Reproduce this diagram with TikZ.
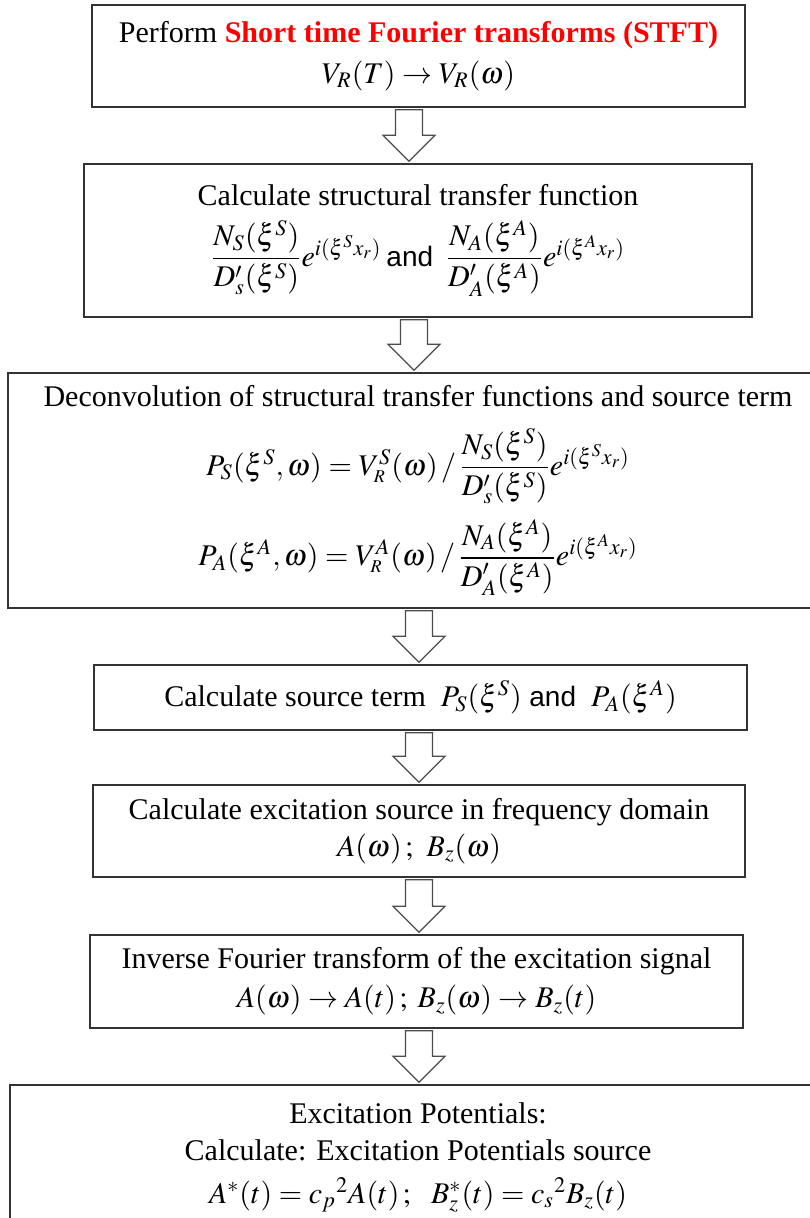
\documentclass[tikz,border=0pt]{standalone}
\usepackage{amsmath}
\usepackage{mathptmx}
\usepackage{fontspec}
\setmainfont{Liberation Serif}
\setsansfont{Liberation Sans}
\usetikzlibrary{calc}

\tikzset{
  stage/.style={draw=black!80, line width=0.8pt, align=center, inner sep=0pt,
    font=\fontsize{15}{18.5}\selectfont},
  hollow/.style={draw=black!70, line width=0.6pt, fill=white, line join=miter},
}

% hollow block arrow from the bottom of #1 to the top of #2, on the axis #3
\newcommand{\flowarrow}[3]{%
  \draw[hollow] ($(#1.south -| #3)+(-13.5,2)$) -- ($(#2.north -| #3)+(-13.5,-28)$)
    -- ++(-12.5,0) -- ($(#2.north -| #3)+(0,-2)$) -- ($(#2.north -| #3)+(26,-28)$)
    -- ++(-12.5,0) -- ($(#1.south -| #3)+(13.5,2)$) -- cycle;}

\begin{document}
\begin{tikzpicture}[x=0.5pt,y=-0.5pt]
  \useasboundingbox (0,0) rectangle (809,1218);

  % processing stages
  \node[stage, minimum width=326.5pt, minimum height=51pt] (stft) at (418.5,56)
    {Perform \textcolor{red}{\textbf{Short time Fourier transforms (STFT)}}\\[2pt]
     $V_R(T)\rightarrow V_R(\omega)$};
  \node[stage, minimum width=334pt, minimum height=76.5pt] (transfer) at (418,240.5)
    {Calculate structural transfer function\\[6pt]
     $\dfrac{N_S(\xi^S)}{D'_s(\xi^S)}e^{i(\xi^S x_r)}$\,{\sffamily\fontsize{14}{18}\selectfont and}\,
     $\dfrac{N_A(\xi^A)}{D'_A(\xi^A)}e^{i(\xi^A x_r)}$};
  \node[stage, minimum width=410pt, minimum height=117.5pt] (deconv) at (418,490.5)
    {Deconvolution of structural transfer functions and source term\\[10pt]
     $P_S(\xi^S,\omega)=V^S_{\scriptscriptstyle R}(\omega)\,/\,\dfrac{N_S(\xi^S)}{D'_s(\xi^S)}e^{i(\xi^S x_r)}$\\[7pt]
     $P_A(\xi^A,\omega)=V^A_{\scriptscriptstyle R}(\omega)\,/\,\dfrac{N_A(\xi^A)}{D'_A(\xi^A)}e^{i(\xi^A x_r)}$};
  \node[stage, minimum width=326.5pt, minimum height=32.5pt] (source) at (420.5,697.5)
    {Calculate source term \ $P_S(\xi^S)$ {\sffamily\fontsize{14}{18}\selectfont and} \ $P_A(\xi^A)$};
  \node[stage, minimum width=326pt, minimum height=46pt] (excit) at (419,831)
    {Calculate excitation source in frequency domain\\
     $A(\omega)\,;\;\,B_z(\omega)$};
  \node[stage, minimum width=326.5pt, minimum height=46.5pt] (inverse) at (416.5,981.5)
    {Inverse Fourier transform of the excitation signal\\[1pt]
     $A(\omega)\rightarrow A(t)\,;\;B_z(\omega)\rightarrow B_z(t)$};
  \node[stage, minimum width=408pt, minimum height=72.5pt] (potential) at (418,1157.5)
    {Excitation Potentials:\\
     Calculate: Excitation Potentials source\\[3pt]
     $A^{*}(t)=c_p{}^2A(t)\,;\;\;\,B_z^{*}(t)=c_s{}^2B_z(t)$};

  % arrow axes
  \coordinate (ax1) at (409,0);
  \coordinate (ax2) at (414,0);
  \coordinate (ax3) at (419,0);

  \flowarrow{stft}{transfer}{ax1}
  \flowarrow{transfer}{deconv}{ax2}
  \flowarrow{deconv}{source}{ax3}
  \flowarrow{source}{excit}{ax3}
  \flowarrow{excit}{inverse}{ax3}
  \flowarrow{inverse}{potential}{ax3}
\end{tikzpicture}
\end{document}
